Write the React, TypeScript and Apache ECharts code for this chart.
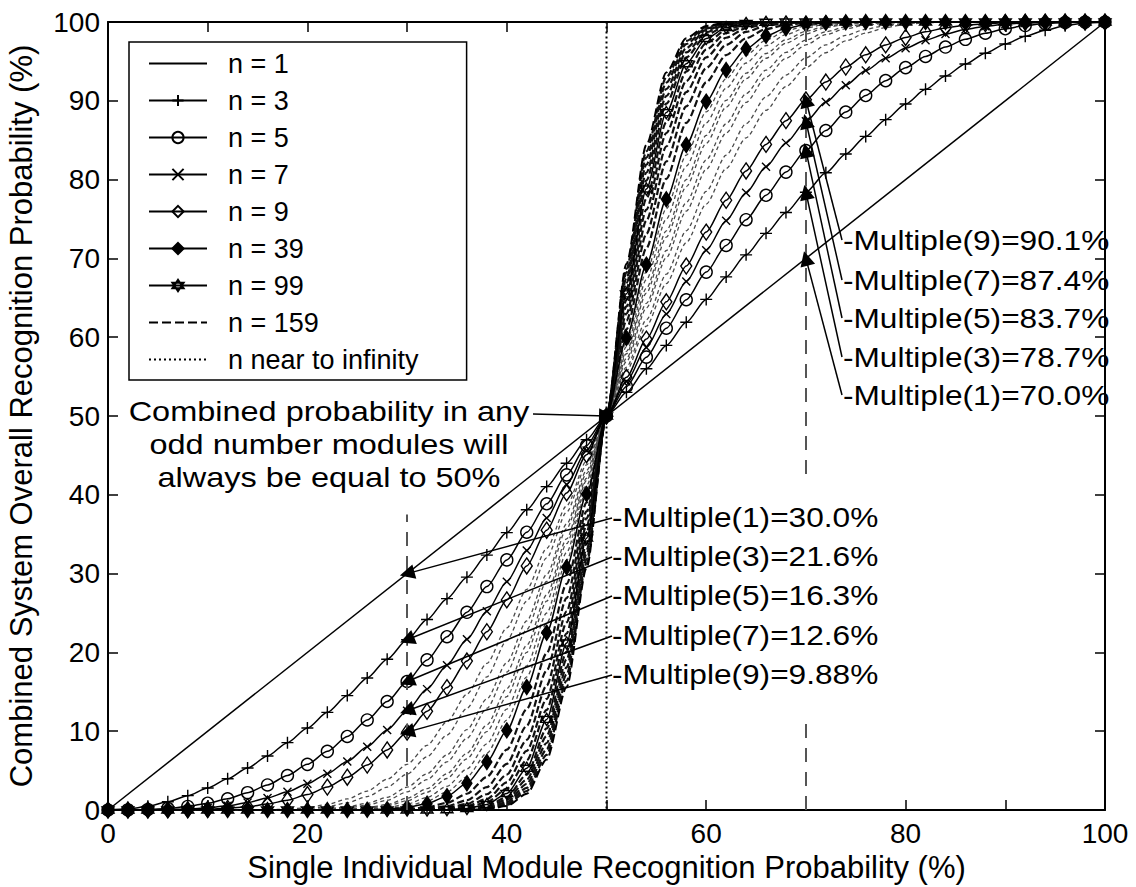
import React, { useEffect, useRef } from 'react';
import * as echarts from 'echarts';

// x: single module recognition probability (%)
const xs = [0, 2, 4, 6, 8, 10, 12, 14, 16, 18, 20, 22, 24, 26, 28, 30, 32, 34, 36, 38, 40, 42, 44, 46, 48,
  50, 52, 54, 56, 58, 60, 62, 64, 66, 68, 70, 72, 74, 76, 78, 80, 82, 84, 86, 88, 90, 92, 94, 96, 98, 100];

// y: combined probability (%) for each odd number of modules
const n1X = [0, 100];
const n1Y = [0, 100];
const n3 = [0, 0.12, 0.47, 1.04, 1.82, 2.80, 3.97, 5.33, 6.86, 8.55, 10.40, 12.39, 14.52, 16.76, 19.13, 21.60, 24.17, 26.82, 29.55, 32.35, 35.20, 38.10, 41.04, 44.01, 47.00,
  50, 53.00, 55.99, 58.96, 61.90, 64.80, 67.65, 70.45, 73.18, 75.83, 78.40, 80.87, 83.24, 85.48, 87.61, 89.60, 91.45, 93.14, 94.67, 96.03, 97.20, 98.18, 98.96, 99.53, 99.88, 100];
const n5 = [0, 0.01, 0.06, 0.20, 0.45, 0.86, 1.43, 2.20, 3.18, 4.37, 5.79, 7.44, 9.33, 11.43, 13.77, 16.31, 19.05, 21.99, 25.09, 28.35, 31.74, 35.25, 38.86, 42.53, 46.25,
  50, 53.75, 57.47, 61.14, 64.75, 68.26, 71.65, 74.91, 78.01, 80.95, 83.69, 86.23, 88.57, 90.67, 92.56, 94.21, 95.63, 96.82, 97.80, 98.57, 99.14, 99.55, 99.80, 99.94, 99.99, 100];
const n7 = [0, 0, 0.01, 0.04, 0.12, 0.27, 0.54, 0.94, 1.53, 2.31, 3.33, 4.61, 6.17, 8.02, 10.16, 12.60, 15.34, 18.37, 21.67, 25.21, 28.98, 32.94, 37.06, 41.31, 45.63,
  50, 54.37, 58.69, 62.94, 67.06, 71.02, 74.79, 78.33, 81.63, 84.66, 87.40, 89.84, 91.98, 93.83, 95.39, 96.67, 97.69, 98.47, 99.06, 99.46, 99.73, 99.88, 99.96, 99.99, 100, 100];
const n9 = [0, 0, 0, 0.01, 0.03, 0.09, 0.21, 0.41, 0.75, 1.25, 1.96, 2.91, 4.16, 5.71, 7.62, 9.88, 12.52, 15.53, 18.90, 22.62, 26.66, 30.97, 35.51, 40.24, 45.09,
  50, 54.91, 59.76, 64.49, 69.03, 73.34, 77.38, 81.10, 84.47, 87.48, 90.12, 92.38, 94.29, 95.84, 97.09, 98.04, 98.75, 99.25, 99.59, 99.79, 99.91, 99.97, 99.99, 100, 100, 100];
// intermediate odd-n curves that fill the fan (not in the legend)
const n13 = [0, 0, 0, 0, 0, 0, 0, 0, 0.03, 0.1, 0.3, 0.7, 1.4, 2.4, 3.9, 5.8, 8.2, 11.2, 14.7, 18.6, 23.1, 28.0, 33.2, 38.6, 44.3,
  50, 55.7, 61.4, 66.8, 72.0, 76.9, 81.4, 85.3, 88.8, 91.8, 94.2, 96.1, 97.6, 98.6, 99.3, 99.7, 99.9, 99.97, 100, 100, 100, 100, 100, 100, 100, 100];
const n15 = [0, 0, 0, 0, 0, 0, 0, 0, 0.01, 0.06, 0.18, 0.44, 0.92, 1.7, 2.9, 4.55, 6.75, 9.5, 12.9, 16.9, 21.5, 26.5, 32.0, 37.8, 43.8,
  50, 56.2, 62.2, 68.0, 73.5, 78.5, 83.1, 87.1, 90.5, 93.25, 95.45, 97.1, 98.3, 99.08, 99.56, 99.82, 99.94, 99.99, 100, 100, 100, 100, 100, 100, 100, 100];
const n19 = [0, 0, 0, 0, 0, 0, 0, 0, 0, 0, 0.05, 0.16, 0.4, 0.85, 1.6, 2.9, 4.6, 7.0, 10.2, 14.1, 18.7, 24.0, 29.9, 36.3, 43.1,
  50, 56.9, 63.7, 70.1, 76.0, 81.3, 85.9, 89.8, 93.0, 95.4, 97.1, 98.4, 99.15, 99.6, 99.84, 99.95, 100, 100, 100, 100, 100, 100, 100, 100, 100, 100];
const n21 = [0, 0, 0, 0, 0, 0, 0, 0, 0, 0, 0.03, 0.1, 0.26, 0.61, 1.24, 2.3, 3.85, 6.1, 9.1, 12.9, 17.5, 22.9, 29.0, 35.7, 42.7,
  50, 57.3, 64.3, 71.0, 77.1, 82.5, 87.1, 90.9, 93.9, 96.15, 97.7, 98.76, 99.39, 99.74, 99.9, 99.97, 100, 100, 100, 100, 100, 100, 100, 100, 100, 100];
const n25 = [0, 0, 0, 0, 0, 0, 0, 0, 0, 0, 0, 0.03, 0.1, 0.3, 0.7, 1.5, 2.7, 4.6, 7.2, 10.8, 15.4, 20.9, 27.3, 34.4, 42.1,
  50, 57.9, 65.6, 72.7, 79.1, 84.6, 89.2, 92.8, 95.4, 97.3, 98.5, 99.3, 99.7, 99.9, 99.97, 100, 100, 100, 100, 100, 100, 100, 100, 100, 100, 100];
const n27 = [0, 0, 0, 0, 0, 0, 0, 0, 0, 0, 0, 0.02, 0.08, 0.22, 0.54, 1.17, 2.25, 4.0, 6.5, 9.95, 14.4, 20.0, 26.5, 33.8, 41.8,
  50, 58.2, 66.2, 73.5, 80.0, 85.6, 90.05, 93.5, 96.0, 97.75, 98.83, 99.46, 99.78, 99.92, 99.98, 100, 100, 100, 100, 100, 100, 100, 100, 100, 100, 100];
const n31 = [0, 0, 0, 0, 0, 0, 0, 0, 0, 0, 0, 0, 0.03, 0.1, 0.3, 0.75, 1.6, 3.0, 5.2, 8.4, 12.8, 18.3, 25.0, 32.7, 41.2,
  50, 58.8, 67.3, 75.0, 81.7, 87.2, 91.6, 94.8, 97.0, 98.4, 99.25, 99.7, 99.9, 99.97, 100, 100, 100, 100, 100, 100, 100, 100, 100, 100, 100, 100];
const n35 = [0, 0, 0, 0, 0, 0, 0, 0, 0, 0, 0, 0, 0, 0.06, 0.19, 0.49, 1.12, 2.3, 4.2, 7.2, 11.4, 16.9, 23.7, 31.7, 40.6,
  50, 59.4, 68.3, 76.3, 83.1, 88.6, 92.8, 95.8, 97.7, 98.88, 99.51, 99.81, 99.94, 100, 100, 100, 100, 100, 100, 100, 100, 100, 100, 100, 100, 100];
const n39 = [0, 0, 0, 0, 0, 0, 0, 0, 0, 0, 0, 0, 0, 0.03, 0.11, 0.32, 0.8, 1.75, 3.4, 6.1, 10.1, 15.6, 22.5, 30.8, 40.1,
  50, 59.9, 69.2, 77.5, 84.4, 89.9, 93.9, 96.6, 98.25, 99.2, 99.68, 99.89, 99.97, 100, 100, 100, 100, 100, 100, 100, 100, 100, 100, 100, 100, 100];
const n49 = [0, 0, 0, 0, 0, 0, 0, 0, 0, 0, 0, 0, 0, 0, 0.03, 0.11, 0.35, 0.9, 2.06, 4.2, 7.65, 12.8, 19.9, 28.7, 39.0,
  50, 61.0, 71.3, 80.1, 87.2, 92.35, 95.8, 97.94, 99.1, 99.65, 99.89, 99.97, 100, 100, 100, 100, 100, 100, 100, 100, 100, 100, 100, 100, 100, 100];
const n59 = [0, 0, 0, 0, 0, 0, 0, 0, 0, 0, 0, 0, 0, 0, 0, 0.04, 0.15, 0.47, 1.25, 2.9, 5.85, 10.7, 17.7, 26.9, 37.9,
  50, 62.1, 73.1, 82.3, 89.3, 94.15, 97.1, 98.75, 99.53, 99.85, 99.96, 100, 100, 100, 100, 100, 100, 100, 100, 100, 100, 100, 100, 100, 100, 100];
const n69 = [0, 0, 0, 0, 0, 0, 0, 0, 0, 0, 0, 0, 0, 0, 0, 0, 0.07, 0.25, 0.77, 2.0, 4.5, 8.9, 15.8, 25.2, 37.0,
  50, 63.0, 74.8, 84.2, 91.1, 95.5, 98.0, 99.23, 99.75, 99.93, 100, 100, 100, 100, 100, 100, 100, 100, 100, 100, 100, 100, 100, 100, 100, 100];
const n79 = [0, 0, 0, 0, 0, 0, 0, 0, 0, 0, 0, 0, 0, 0, 0, 0, 0.03, 0.13, 0.48, 1.4, 3.5, 7.5, 14.1, 23.8, 36.1,
  50, 63.9, 76.2, 85.9, 92.5, 96.5, 98.6, 99.52, 99.87, 99.97, 100, 100, 100, 100, 100, 100, 100, 100, 100, 100, 100, 100, 100, 100, 100, 100];
const n89 = [0, 0, 0, 0, 0, 0, 0, 0, 0, 0, 0, 0, 0, 0, 0, 0, 0, 0.07, 0.3, 0.98, 2.7, 6.3, 12.7, 22.4, 35.3,
  50, 64.7, 77.6, 87.3, 93.7, 97.3, 99.02, 99.7, 99.93, 100, 100, 100, 100, 100, 100, 100, 100, 100, 100, 100, 100, 100, 100, 100, 100, 100];
const n99 = [0, 0, 0, 0, 0, 0, 0, 0, 0, 0, 0, 0, 0, 0, 0, 0, 0, 0.04, 0.19, 0.7, 2.1, 5.3, 11.5, 21.2, 34.5,
  50, 65.5, 78.8, 88.5, 94.7, 97.9, 99.3, 99.81, 99.96, 100, 100, 100, 100, 100, 100, 100, 100, 100, 100, 100, 100, 100, 100, 100, 100, 100];
const n109 = [0, 0, 0, 0, 0, 0, 0, 0, 0, 0, 0, 0, 0, 0, 0, 0, 0, 0.02, 0.12, 0.49, 1.65, 4.5, 10.35, 20.1, 33.8,
  50, 66.2, 79.9, 89.65, 95.5, 98.35, 99.51, 99.88, 99.98, 100, 100, 100, 100, 100, 100, 100, 100, 100, 100, 100, 100, 100, 100, 100, 100, 100];
const n119 = [0, 0, 0, 0, 0, 0, 0, 0, 0, 0, 0, 0, 0, 0, 0, 0, 0, 0, 0.07, 0.35, 1.3, 3.85, 9.4, 19.1, 33.1,
  50, 66.9, 80.9, 90.6, 96.15, 98.7, 99.65, 99.93, 100, 100, 100, 100, 100, 100, 100, 100, 100, 100, 100, 100, 100, 100, 100, 100, 100, 100];
const n129 = [0, 0, 0, 0, 0, 0, 0, 0, 0, 0, 0, 0, 0, 0, 0, 0, 0, 0, 0.05, 0.25, 1.0, 3.3, 8.5, 18.1, 32.5,
  50, 67.5, 81.9, 91.5, 96.7, 99.0, 99.75, 99.95, 100, 100, 100, 100, 100, 100, 100, 100, 100, 100, 100, 100, 100, 100, 100, 100, 100, 100];
const n139 = [0, 0, 0, 0, 0, 0, 0, 0, 0, 0, 0, 0, 0, 0, 0, 0, 0, 0, 0.03, 0.18, 0.8, 2.8, 7.7, 17.2, 31.8,
  50, 68.2, 82.8, 92.3, 97.2, 99.2, 99.82, 99.97, 100, 100, 100, 100, 100, 100, 100, 100, 100, 100, 100, 100, 100, 100, 100, 100, 100, 100];
const n149 = [0, 0, 0, 0, 0, 0, 0, 0, 0, 0, 0, 0, 0, 0, 0, 0, 0, 0, 0.02, 0.13, 0.64, 2.4, 7.0, 16.4, 31.3,
  50, 68.7, 83.6, 93.0, 97.6, 99.36, 99.87, 99.98, 100, 100, 100, 100, 100, 100, 100, 100, 100, 100, 100, 100, 100, 100, 100, 100, 100, 100];
const n159 = [0, 0, 0, 0, 0, 0, 0, 0, 0, 0, 0, 0, 0, 0, 0, 0, 0, 0, 0.01, 0.09, 0.5, 2.05, 6.4, 15.6, 30.7,
  50, 69.3, 84.4, 93.6, 97.95, 99.5, 99.91, 99.99, 100, 100, 100, 100, 100, 100, 100, 100, 100, 100, 100, 100, 100, 100, 100, 100, 100, 100];
const infX = [0, 50, 50, 100];
const infY = [0, 0, 100, 100];

// annotations
const upperLabels = ['-Multiple(9)=90.1%', '-Multiple(7)=87.4%', '-Multiple(5)=83.7%', '-Multiple(3)=78.7%', '-Multiple(1)=70.0%'];
const upperTips = [90.1, 87.4, 83.7, 78.4, 70.0];
const upperTipX = 70;
const lowerLabels = ['-Multiple(1)=30.0%', '-Multiple(3)=21.6%', '-Multiple(5)=16.3%', '-Multiple(7)=12.6%', '-Multiple(9)=9.88%'];
const lowerTips = [30.0, 21.6, 16.3, 12.6, 9.88];
const lowerTipX = 30;
const centerLines = ['Combined probability in any', 'odd number modules will', 'always be equal to 50%'];
const centerPoint = [50, 50];

const legendNames = ['n = 1', 'n = 3', 'n = 5', 'n = 7', 'n = 9', 'n = 39', 'n = 99', 'n = 159', 'n near to infinity'];
const noSymbolInLegend = ['n = 1', 'n = 159', 'n near to infinity'];

const FONT = '"Liberation Sans", Arial, Helvetica, sans-serif';

const pts = (ys: number[]) => xs.map((x, i) => [x, ys[i]]);
const pair = (a: number[], b: number[]) => a.map((x, i) => [x, b[i]]);

const PLUS = 'path://M5,0L5,10M0,5L10,5';
const CROSS = 'path://M0,0L10,10M10,0L0,10';
const HEX = 'path://M5,0L9.33,7.5L0.67,7.5ZM5,10L9.33,2.5L0.67,2.5Z';

function buildOption() {
  const upperY = [240, 280, 318, 357, 395];
  const lowerY = [517, 556, 595, 635, 674];
  const centerY = [411, 444, 477];

  const arrows: any[] = [];
  upperTips.forEach((v, i) => {
    arrows.push([{ x: 842, y: upperY[i] }, { coord: [upperTipX, v] }]);
  });
  lowerTips.forEach((v, i) => {
    arrows.push([{ x: 612, y: lowerY[i] + 1 }, { coord: [lowerTipX, v] }]);
  });
  arrows.push([{ x: 533, y: 414 }, { coord: centerPoint }]);

  const extraGray = (name: string, ys: number[]) => ({
    type: 'line', name, data: pts(ys), showSymbol: false, silent: true, z: 1,
    smooth: 0.25, smoothMonotone: 'x',
    lineStyle: { color: '#4a4a4a', width: 1.3, type: [4, 3] },
  });
  const extraDark = (name: string, ys: number[]) => ({
    type: 'line', name, data: pts(ys), showSymbol: false, silent: true, z: 1,
    smooth: 0.25, smoothMonotone: 'x',
    lineStyle: { color: '#111', width: 2.2, type: [7, 3] },
  });
  const marked = (name: string, ys: number[], symbol: string, size: any, fill: string, bw = 1.4) => ({
    type: 'line', name, data: pts(ys), symbol, symbolSize: size, showSymbol: true,
    smooth: 0.25, smoothMonotone: 'x',
    lineStyle: { color: '#000', width: 1.5 },
    itemStyle: { color: fill, borderColor: '#000', borderWidth: bw },
    emphasis: { disabled: true },
  });

  const series: any[] = [
    extraGray('n = 13', n13),
    extraGray('n = 15', n15),
    extraGray('n = 19', n19),
    extraGray('n = 21', n21),
    extraGray('n = 25', n25),
    extraGray('n = 27', n27),
    extraGray('n = 31', n31),
    extraGray('n = 35', n35),
    extraDark('n = 49', n49),
    extraDark('n = 59', n59),
    extraDark('n = 69', n69),
    extraDark('n = 79', n79),
    extraDark('n = 89', n89),
    extraDark('n = 109', n109),
    extraDark('n = 119', n119),
    extraDark('n = 129', n129),
    extraDark('n = 139', n139),
    extraDark('n = 149', n149),
    {
      type: 'line', name: 'n = 159', data: pts(n159), showSymbol: false, symbol: 'none',
      smooth: 0.25, smoothMonotone: 'x',
      lineStyle: { color: '#000', width: 2, type: [9, 4] },
      itemStyle: { color: '#000' },
    },
    marked('n = 99', n99, HEX, 12, 'rgba(0,0,0,0)'),
    marked('n = 39', n39, 'diamond', [10, 15], '#000'),
    marked('n = 9', n9, 'diamond', [11, 16], 'rgba(0,0,0,0)'),
    marked('n = 7', n7, CROSS, 8, '#000'),
    marked('n = 5', n5, 'circle', 12, 'rgba(0,0,0,0)'),
    marked('n = 3', n3, PLUS, 12, '#000'),
    {
      type: 'line', name: 'n near to infinity', data: pair(infX, infY), showSymbol: false, symbol: 'none',
      lineStyle: { color: '#000', width: 2, type: [2, 3] },
      itemStyle: { color: '#000' },
      markLine: {
        silent: true, symbol: ['none', 'none'], label: { show: false }, emphasis: { disabled: true },
        lineStyle: { color: '#555', width: 2, type: [14, 10] },
        data: [
          [{ coord: [lowerTipX, 0] }, { coord: [lowerTipX, 37.5] }],
          [{ coord: [upperTipX, 0] }, { coord: [upperTipX, 100] }],
        ],
      },
    },
    {
      type: 'line', name: 'n = 1', data: pair(n1X, n1Y), showSymbol: false, symbol: 'none',
      lineStyle: { color: '#000', width: 1.5 },
      itemStyle: { color: '#000' },
      z: 5,
      markLine: {
        silent: true, symbol: ['none', 'triangle'], symbolSize: 15,
        label: { show: false }, emphasis: { disabled: true },
        lineStyle: { color: '#000', width: 1.5, type: 'solid' },
        itemStyle: { color: '#000' },
        data: arrows,
      },
    },
  ];

  const textBase = { fontSize: 28, fontFamily: FONT, fill: '#000' };
  const graphic: any[] = [
    { type: 'rect', shape: { x: 616, y: 480, width: 268, height: 240 }, style: { fill: '#fff' }, z: 50, silent: true },
  ];
  upperLabels.forEach((t, i) => graphic.push({
    type: 'text', x: 843, y: upperY[i], scaleX: 1.13, z: 60, silent: true,
    style: { ...textBase, text: t, align: 'left', verticalAlign: 'middle' },
  }));
  lowerLabels.forEach((t, i) => graphic.push({
    type: 'text', x: 612, y: lowerY[i], scaleX: 1.13, z: 60, silent: true,
    style: { ...textBase, text: t, align: 'left', verticalAlign: 'middle' },
  }));
  centerLines.forEach((t, i) => graphic.push({
    type: 'text', x: 329, y: centerY[i], scaleX: 1.16, z: 60, silent: true,
    style: { ...textBase, text: t, align: 'center', verticalAlign: 'middle' },
  }));

  const axisCommon = {
    type: 'value', min: 0, max: 100, interval: 10,
    axisLine: { show: true, onZero: false, lineStyle: { color: '#000', width: 2 } },
    axisTick: { show: true, inside: true, length: 10, lineStyle: { color: '#000', width: 1.5 } },
    splitLine: { show: false },
  };

  return {
    animation: false,
    backgroundColor: '#fff',
    grid: { left: 108, right: 31, top: 22, bottom: 77, containLabel: false, outerBoundsMode: 'none' },
    legend: {
      data: legendNames.map((name) => (noSymbolInLegend.includes(name)
        ? { name, itemStyle: { opacity: 0 } }
        : { name })),
      orient: 'vertical', left: 129, top: 42,
      itemWidth: 58, itemHeight: 14, itemGap: 0,
      padding: [3, 48, 2, 19],
      borderColor: '#000', borderWidth: 1.5, backgroundColor: '#fff',
      selectedMode: false, z: 20,
      textStyle: { color: '#000', fontSize: 27, fontFamily: FONT, lineHeight: 37, padding: [0, 0, 0, 16] },
    },
    xAxis: [
      {
        ...axisCommon, position: 'bottom',
        axisLabel: { color: '#000', fontSize: 28, fontFamily: FONT, margin: 9, formatter: (v: number) => (v % 20 === 0 ? String(v) : '') },
        name: 'Single Individual Module Recognition Probability (%)', nameLocation: 'middle', nameGap: 40,
        nameTextStyle: { color: '#000', fontSize: 31, fontFamily: FONT },
      },
      { ...axisCommon, position: 'top', axisLabel: { show: false } },
    ],
    yAxis: [
      {
        ...axisCommon, position: 'left',
        axisLabel: { color: '#000', fontSize: 28, fontFamily: FONT, margin: 8 },
        name: 'Combined System Overall Recognition Probability (%)', nameLocation: 'middle', nameGap: 71,
        nameTextStyle: { color: '#000', fontSize: 31, fontFamily: FONT },
      },
      { ...axisCommon, position: 'right', axisLabel: { show: false } },
    ],
    series,
    graphic,
  };
}

export default function App() {
  const ref = useRef<HTMLDivElement>(null);
  useEffect(() => {
    if (!ref.current) return;
    const chart = echarts.init(ref.current, null, { renderer: 'svg' });
    chart.setOption(buildOption() as any);
    return () => chart.dispose();
  }, []);
  return <div ref={ref} style={{ position: 'fixed', left: 0, top: 0, width: 1136, height: 887 }} />;
}
